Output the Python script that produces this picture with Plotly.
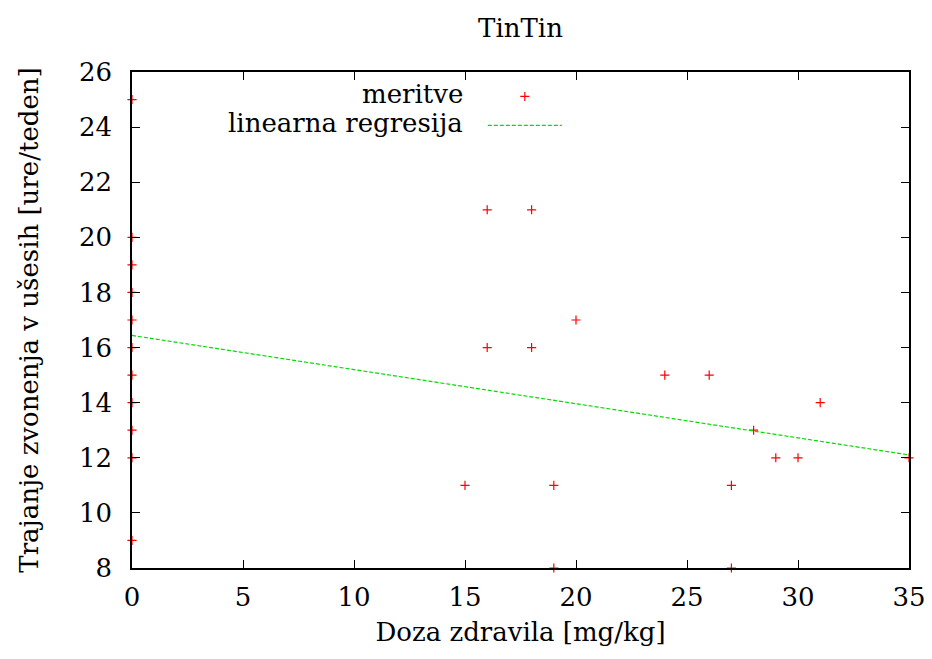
import numpy as np
import plotly.graph_objects as go

# Data
doza = [0, 0, 0, 0, 0, 0, 0, 0, 0, 0, 0,
        15, 16, 16, 18, 18, 19, 19, 20, 24, 26, 27, 27, 28, 29, 30, 31, 35]
trajanje = [25, 20, 19, 18, 17, 16, 15, 14, 13, 12, 9,
            11, 21, 16, 21, 16, 11, 8, 17, 15, 15, 11, 8, 13, 12, 12, 14, 12]

x_ticks = [0, 5, 10, 15, 20, 25, 30, 35]
y_ticks = [8, 10, 12, 14, 16, 18, 20, 22, 24, 26]
x_range = [0, 35]
y_range = [8, 26]

# Linear regression fitted on the data
slope, intercept = np.polyfit(doza, trajanje, 1)
reg_x = np.array(x_range, dtype=float)
reg_y = intercept + slope * reg_x

FONT = "DejaVu Serif"
FS = 26

fig = go.Figure()
fig.add_trace(go.Scatter(
    x=doza, y=trajanje, mode="markers", name=" ",
    marker=dict(symbol="cross-thin", size=6.5, color="#ff0000",
                line=dict(color="#ff0000", width=1.2)),
    cliponaxis=False, showlegend=True,
))
fig.add_trace(go.Scatter(
    x=reg_x, y=reg_y, mode="lines", name=" ",
    line=dict(color="#00dd00", width=1.2, dash="4px,2px"),
    showlegend=True,
))

axis_common = dict(
    showgrid=False, zeroline=False, showline=True, linecolor="black",
    linewidth=1.6, mirror="ticks", ticks="inside", ticklen=8,
    tickcolor="black", tickwidth=1.2, layer="above traces",
    ticklabeloverflow="allow", automargin=False,
    tickfont=dict(family=FONT, size=FS, color="black"),
)

fig.update_xaxes(range=x_range, tickvals=x_ticks, ticklabelstandoff=5, **axis_common,
                 title=dict(text="Doza zdravila [mg/kg]", standoff=12,
                            font=dict(family=FONT, size=FS, color="black")))
fig.update_yaxes(range=y_range, tickvals=y_ticks, ticklabelstandoff=13, **axis_common,
                 title=dict(text="Trajanje zvonenja v ušesih [ure/teden]", standoff=33,
                            font=dict(family=FONT, size=FS, color="black")))

fig.update_layout(
    width=932, height=659,
    margin=dict(l=132, r=23, t=72, b=91, autoexpand=False),
    paper_bgcolor="white", plot_bgcolor="white",
    title=dict(text="TinTin", xref="paper", x=0.5, xanchor="center",
               y=0.9575, yanchor="middle",
               font=dict(family=FONT, size=FS, color="black")),
    legend=dict(x=0.4515, y=0.99, xanchor="left", yanchor="top",
                bgcolor="rgba(0,0,0,0)", font=dict(family=FONT, size=20),
                tracegroupgap=0, itemwidth=74),
    annotations=[
        dict(text="meritve", xref="paper", yref="paper", x=0.429, y=0.956,
             xanchor="right", yanchor="middle", showarrow=False,
             font=dict(family=FONT, size=FS, color="black")),
        dict(text="linearna regresija", xref="paper", yref="paper", x=0.429, y=0.897,
             xanchor="right", yanchor="middle", showarrow=False,
             font=dict(family=FONT, size=FS, color="black")),
    ],
)

fig.write_html("out.html", config={"displayModeBar": False},
               post_script="document.body.style.margin='0';")
